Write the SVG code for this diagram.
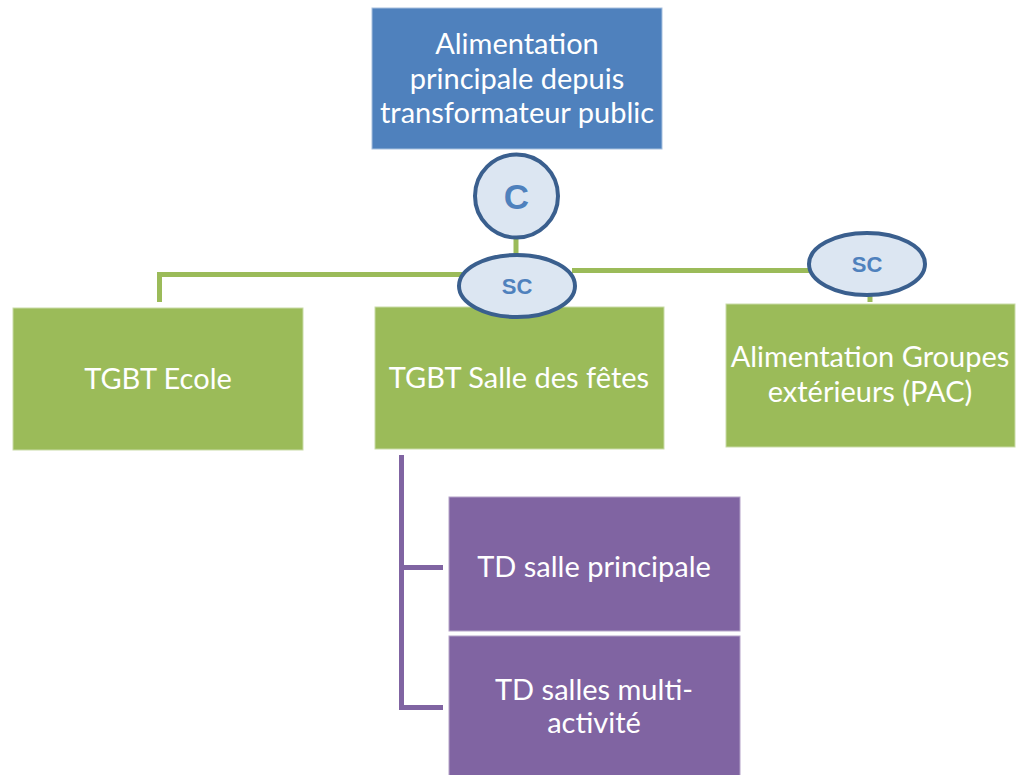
<svg xmlns="http://www.w3.org/2000/svg" width="1017" height="775" viewBox="0 0 1017 775">
<style>
.lbl{font-family:Lato,"Open Sans",sans-serif;font-size:29px;fill:#fff;text-anchor:middle}
.sw{font-family:"Liberation Sans",Arial,sans-serif;font-weight:bold;fill:#4F81BD;text-anchor:middle}
.sh{fill:#DCE6F2;stroke:#3A5F8E;stroke-width:4}
.g{fill:#9BBB59;stroke:#C9DBA8;stroke-width:1}
.p{fill:#8064A2;stroke:#B3A2C8;stroke-width:1}
.gl{stroke:#9BBB59;stroke-width:5;fill:none}
.pl{stroke:#8064A2;stroke-width:5;fill:none}
</style>
<rect width="1017" height="775" fill="#fff"/>
<g id="connectors">
<line class="gl" x1="516" y1="236" x2="516" y2="258"/>
<polyline class="gl" points="159.5,302 159.5,274.5 462,274.5"/>
<line class="gl" x1="572" y1="270.5" x2="812" y2="270.5"/>
<line class="gl" x1="870" y1="294" x2="870" y2="302"/>
<polyline class="pl" points="443,567.5 401.5,567.5 401.5,455"/>
<polyline class="pl" points="443,707.5 401.5,707.5 401.5,560"/>
</g>
<g id="node-alim">
<rect x="372" y="8" width="290" height="141" fill="#4F81BD" stroke="#A7C0DE" stroke-width="1"/>
<text class="lbl" x="517" y="54">Alimentation</text>
<text class="lbl" x="517" y="89">principale depuis</text>
<text class="lbl" x="517" y="123">transformateur public</text>
</g>
<g id="node-c">
<circle class="sh" cx="516.5" cy="196" r="41.5"/>
<text class="sw" x="516.5" y="209" font-size="35">C</text>
</g>
<g id="node-ecole">
<rect class="g" x="13" y="308" width="290" height="142"/>
<text class="lbl" x="158" y="389">TGBT Ecole</text>
</g>
<g id="node-salle">
<rect class="g" x="375" y="307" width="289" height="142"/>
<text class="lbl" x="519" y="388">TGBT Salle des fêtes</text>
</g>
<g id="node-sc1">
<ellipse class="sh" cx="517" cy="286" rx="58" ry="31"/>
<text class="sw" x="517" y="294" font-size="22">SC</text>
</g>
<g id="node-pac">
<rect class="g" x="726" y="304" width="289" height="143"/>
<text class="lbl" x="870" y="367">Alimentation Groupes</text>
<text class="lbl" x="870" y="402">extérieurs (PAC)</text>
</g>
<g id="node-sc2">
<ellipse class="sh" cx="867" cy="264" rx="58" ry="31"/>
<text class="sw" x="867" y="272" font-size="22">SC</text>
</g>
<g id="node-td1">
<rect class="p" x="449" y="497" width="291" height="134"/>
<text class="lbl" x="594" y="577">TD salle principale</text>
</g>
<g id="node-td2">
<rect class="p" x="449" y="636" width="291" height="145"/>
<text class="lbl" x="594" y="700">TD salles multi-</text>
<text class="lbl" x="594" y="733">activité</text>
</g>
</svg>
